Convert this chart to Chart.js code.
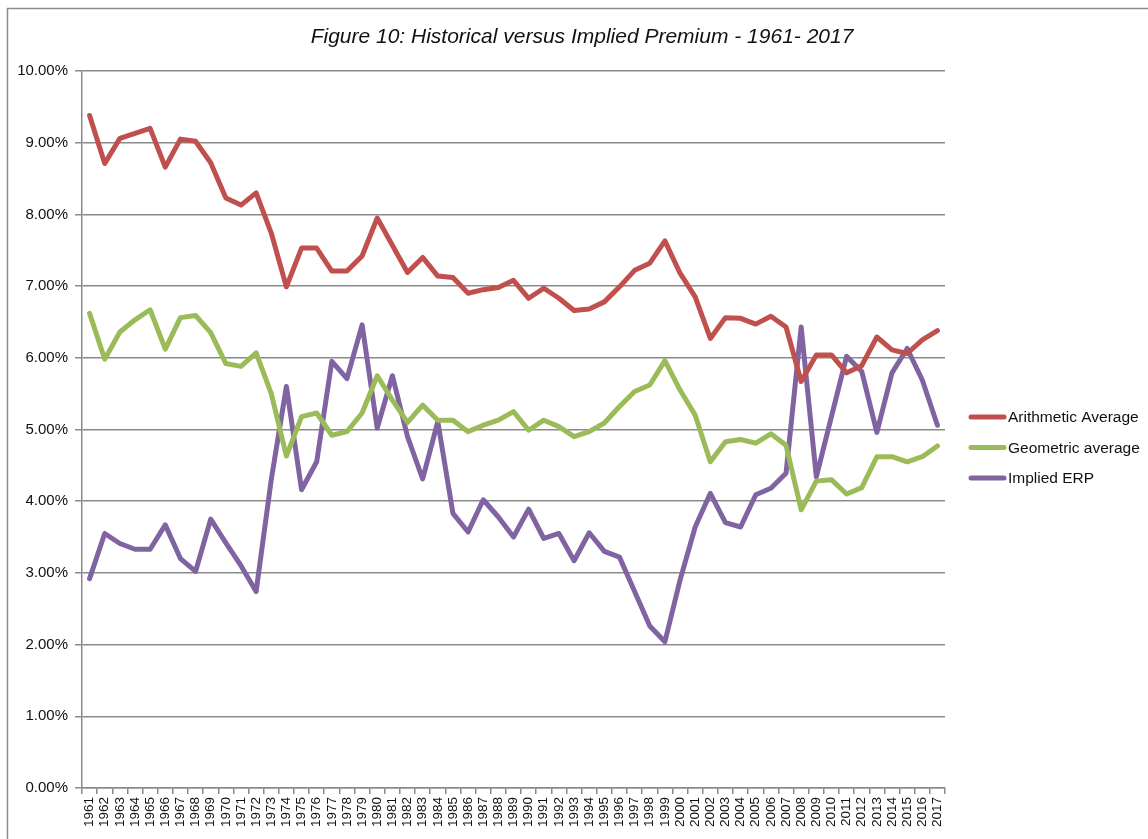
<html>
  <head>
    <script src="https://cdn.jsdelivr.net/npm/chart.js@4.4.1/dist/chart.umd.min.js"></script>
    <title>Historical versus Implied Premium</title>
    <style>
      body { margin:0; background:#fff; }
      #wrap { width:1148px; height:839px; }
    </style>
  </head>
  <body>
    <div id="wrap"><canvas id="chart" width="1148" height="839"></canvas></div>
  </body>
  <script>
    // values in percent
    var years = [];
    for (var y = 1961; y <= 2017; y++) years.push(String(y));

    var arithmetic = [9.38,8.71,9.06,9.13,9.20,8.66,9.05,9.02,8.72,8.23,
                      8.13,8.30,7.74,6.99,7.53,7.53,7.21,7.21,7.42,7.95,
                      7.57,7.19,7.40,7.14,7.12,6.90,6.95,6.98,7.08,6.83,
                      6.97,6.83,6.66,6.68,6.78,6.99,7.22,7.32,7.63,7.18,
                      6.85,6.27,6.56,6.55,6.47,6.58,6.43,5.67,6.04,6.04,
                      5.79,5.89,6.29,6.11,6.06,6.25,6.38];
    var geometric = [6.62,5.98,6.36,6.53,6.67,6.12,6.56,6.59,6.35,5.92,
                     5.88,6.07,5.50,4.63,5.18,5.23,4.92,4.97,5.23,5.75,
                     5.41,5.10,5.34,5.13,5.13,4.97,5.06,5.13,5.25,4.99,
                     5.13,5.04,4.90,4.97,5.09,5.32,5.53,5.62,5.96,5.55,
                     5.20,4.55,4.83,4.86,4.81,4.94,4.78,3.88,4.28,4.30,
                     4.10,4.19,4.62,4.62,4.55,4.62,4.77];
    var implied = [2.92,3.55,3.41,3.33,3.33,3.67,3.20,3.02,3.75,3.42,
                   3.10,2.74,4.30,5.60,4.16,4.55,5.95,5.71,6.46,5.02,
                   5.75,4.90,4.31,5.11,3.83,3.57,4.02,3.78,3.50,3.89,
                   3.48,3.55,3.17,3.56,3.30,3.22,2.74,2.26,2.04,2.90,
                   3.64,4.11,3.70,3.64,4.09,4.18,4.39,6.43,4.34,5.18,
                   6.02,5.81,4.96,5.79,6.13,5.69,5.06];

    var seriesNames = ["Arithmetic Average", "Geometric average", "Implied ERP"];
    var seriesColors = ["#C0504D", "#9BBB59", "#8064A2"];
    var titleText = "Figure 10: Historical versus Implied Premium - 1961- 2017";

    var gridColor = "#8a8a8a";
    var font = "'Liberation Sans', Arial, sans-serif";

    // outer frame like the spreadsheet chart border, plus the title centred on it
    var framePlugin = {
      id: 'frame',
      beforeDraw: function(chart) {
        var c = chart.ctx;
        c.save();
        c.strokeStyle = "#8c8c8c";
        c.lineWidth = 1.5;
        c.strokeRect(7.5, 8.5, 1160, 860);
        c.fillStyle = "#111";
        c.font = "italic 21px " + font;
        c.textAlign = "center";
        c.textBaseline = "middle";
        c.fillText(titleText, 582, 37);
        c.restore();
      }
    };

    // legend drawn to the right of the plot
    var legendPlugin = {
      id: 'sideLegend',
      afterDraw: function(chart) {
        var c = chart.ctx;
        c.save();
        c.font = "15.5px " + font;
        c.textBaseline = "middle";
        chart.data.datasets.forEach(function(ds, i) {
          var ly = 417 + i * 30.5;
          c.strokeStyle = ds.borderColor;
          c.lineWidth = 5;
          c.lineCap = "round";
          c.beginPath();
          c.moveTo(971, ly);
          c.lineTo(1004, ly);
          c.stroke();
          c.fillStyle = "#111";
          c.fillText(ds.label, 1008, ly + 1);
        });
        c.restore();
      }
    };

    var datasets = [arithmetic, geometric, implied].map(function(d, i) {
      return {
        label: seriesNames[i],
        data: d,
        borderColor: seriesColors[i],
        backgroundColor: seriesColors[i],
        borderWidth: 5,
        pointRadius: 0,
        tension: 0,
        borderJoinStyle: 'round',
        borderCapStyle: 'round'
      };
    });

    new Chart(document.getElementById("chart"), {
      type: 'line',
      data: { labels: years, datasets: datasets },
      plugins: [framePlugin, legendPlugin],
      options: {
        responsive: false,
        animation: false,
        layout: { padding: { left: 7, right: 203, top: 71, bottom: 0 } },
        plugins: {
          legend: { display: false },
          tooltip: { enabled: false },
          title: { display: false }
        },
        scales: {
          x: {
            offset: true,
            grid: { offset: true, drawOnChartArea: false, drawTicks: true, tickLength: 6, color: gridColor, lineWidth: 1.5 },
            border: { color: gridColor, width: 1.5 },
            ticks: { minRotation: 90, maxRotation: 90, autoSkip: false, padding: 3, color: "#111", font: { family: font, size: 13.5 } },
            afterFit: function(s) { s.height = 51; }
          },
          y: {
            min: 0,
            max: 10,
            grid: { color: gridColor, lineWidth: 1.5, tickLength: 7 },
            border: { color: gridColor, width: 1.5 },
            ticks: {
              stepSize: 1,
              padding: 7,
              color: "#111",
              font: { family: font, size: 15 },
              callback: function(v) { return v.toFixed(2) + "%"; }
            },
            afterFit: function(s) { s.width = 75; }
          }
        }
      }
    });
  </script>
</html>
